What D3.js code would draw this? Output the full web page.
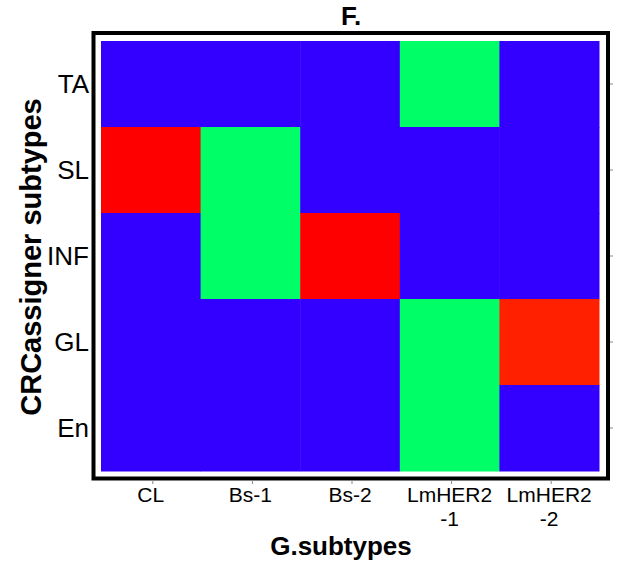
<!DOCTYPE html>
<html><head><meta charset="utf-8">
<script src="https://cdn.jsdelivr.net/npm/d3@7"></script>
<style>body{margin:0;background:#fff;} text{font-family:"Liberation Sans",Arial,sans-serif;}</style>
</head><body>
<script>
const columns = ["CL","Bs-1","Bs-2","LmHER2-1","LmHER2-2"];
const columnLabels = [["CL"],["Bs-1"],["Bs-2"],["LmHER2","-1"],["LmHER2","-2"]];
const rows = ["TA","SL","INF","GL","En"];
// level per cell (row-major, rows as above): 0 = blue, 1 = green, 2 = red, 3 = orange-red
const valTA  = [0,0,0,1,0];
const valSL  = [2,1,0,0,0];
const valINF = [0,1,2,0,0];
const valGL  = [0,0,0,1,3];
const valEn  = [0,0,0,1,0];
const levels = [0,1,2,3];
const levelColors = ["#3300FF","#00FF66","#FF0000","#FF2000"];
const title = "F.";
const xTitle = "G.subtypes";
const yTitle = "CRCassigner subtypes";

const W = 625, H = 563;
const svg = d3.select("body").append("svg").attr("width",W).attr("height",H);
const x = d3.scaleBand().domain(columns).range([101,599]);
const y = d3.scaleBand().domain(rows).range([41,471]);
const color = d3.scaleOrdinal().domain(levels).range(levelColors);

const matrix = [valTA,valSL,valINF,valGL,valEn];
const cells = [];
rows.forEach((r,i)=>columns.forEach((c,j)=>cells.push({r,c,v:matrix[i][j]})));

svg.append("g").selectAll("rect").data(cells).join("rect")
  .attr("x",d=>x(d.c)).attr("y",d=>y(d.r))
  .attr("width",x.bandwidth()+0.5).attr("height",y.bandwidth()+0.5)
  .attr("fill",d=>color(d.v));

// frame
svg.append("rect").attr("x",93.5).attr("y",33).attr("width",514.5).attr("height",445.5)
  .attr("fill","none").attr("stroke","#000").attr("stroke-width",4);

// right ticks
const yr = d3.axisRight(y).tickSize(3).tickFormat("");
const gr = svg.append("g").attr("transform","translate(610,0)").call(yr);
gr.select(".domain").remove();
gr.selectAll("line").attr("stroke","#888");

// left labels
svg.append("g").selectAll("text").data(rows).join("text")
  .attr("x",89).attr("y",d=>y(d)+y.bandwidth()/2+9)
  .attr("text-anchor","end").attr("font-size",26).text(d=>d);

// bottom ticks
const xb = d3.axisBottom(x).tickSize(4).tickFormat("");
const gb = svg.append("g").attr("transform","translate(2,480)").call(xb);
gb.select(".domain").remove();
gb.selectAll("line").attr("stroke","#888");

// bottom labels
const lbl = svg.append("g").selectAll("text").data(columns).join("text")
  .attr("x",d=>x(d)+x.bandwidth()/2).attr("y",502)
  .attr("text-anchor","middle").attr("font-size",21);
lbl.each(function(d,i){
  const t = d3.select(this);
  columnLabels[i].forEach((s,k)=>{
    t.append("tspan").attr("x",x(d)+x.bandwidth()/2).attr("dy",k===0?0:24).text(s);
  });
});

svg.append("text").attr("x",341).attr("y",25).attr("text-anchor","start")
  .attr("font-size",26).attr("font-weight","bold").text(title);
svg.append("text").attr("x",341).attr("y",555).attr("text-anchor","middle")
  .attr("font-size",26).attr("font-weight","bold").text(xTitle);
svg.append("text").attr("transform","translate(41,257) rotate(-90)").attr("text-anchor","middle")
  .attr("font-size",29).attr("font-weight","bold").text(yTitle);
</script>
</body></html>
